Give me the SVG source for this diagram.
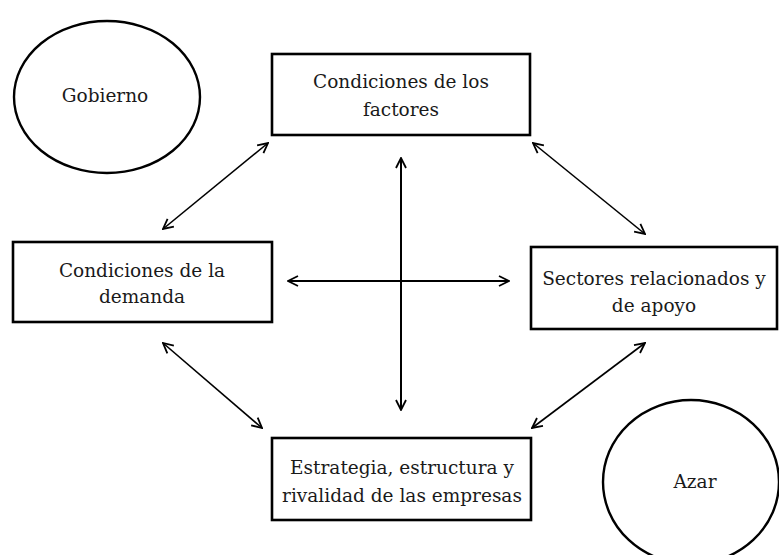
<svg xmlns="http://www.w3.org/2000/svg" width="779" height="555" viewBox="0 0 779 555">
<style>
.box{fill:#fff;stroke:#000;stroke-width:2.6}
.ell{fill:#fff;stroke:#000;stroke-width:2.4}
.t{font-family:"DejaVu Serif","Liberation Serif",serif;font-size:18.5px;fill:#1a1a1a;text-anchor:middle}
.c{stroke:#000;stroke-width:1.6;fill:none;marker-start:url(#a);marker-end:url(#a)}
.x{stroke:#000;stroke-width:2;fill:none;marker-start:url(#a);marker-end:url(#a)}
</style>
<defs>
<marker id="a" viewBox="0 0 12 12" refX="11" refY="6" markerWidth="12" markerHeight="12" markerUnits="userSpaceOnUse" orient="auto-start-reverse">
<path d="M1,1 L11,6 L1,11" fill="none" stroke="#000" stroke-width="1.8"/>
</marker>
</defs>
<rect width="779" height="555" fill="#fff"/>
<g id="connectors">
<line class="c" x1="163" y1="229" x2="268" y2="143"/>
<line class="c" x1="533" y1="143" x2="645" y2="234"/>
<line class="c" x1="163" y1="343" x2="262" y2="428"/>
<line class="c" x1="645" y1="343" x2="532" y2="428"/>
<line class="x" x1="401" y1="158" x2="401" y2="410"/>
<line class="x" x1="288" y1="281" x2="509" y2="281"/>
</g>
<g id="gobierno">
<ellipse class="ell" cx="107" cy="97" rx="93" ry="76"/>
<text class="t" x="105" y="102">Gobierno</text>
</g>
<g id="factores">
<rect class="box" x="272" y="54" width="258" height="81"/>
<text class="t" x="401" y="88">Condiciones de los</text>
<text class="t" x="401" y="116">factores</text>
</g>
<g id="demanda">
<rect class="box" x="13" y="242" width="259" height="80"/>
<text class="t" x="142" y="277">Condiciones de la</text>
<text class="t" x="142" y="303">demanda</text>
</g>
<g id="sectores">
<rect class="box" x="531" y="247" width="246" height="82"/>
<text class="t" x="654" y="285">Sectores relacionados y</text>
<text class="t" x="654" y="312">de apoyo</text>
</g>
<g id="estrategia">
<rect class="box" x="272" y="438" width="259" height="82"/>
<text class="t" x="402" y="474">Estrategia, estructura y</text>
<text class="t" x="402" y="502">rivalidad de las empresas</text>
</g>
<g id="azar">
<ellipse class="ell" cx="691" cy="482" rx="88" ry="82"/>
<text class="t" x="695" y="488">Azar</text>
</g>
</svg>
